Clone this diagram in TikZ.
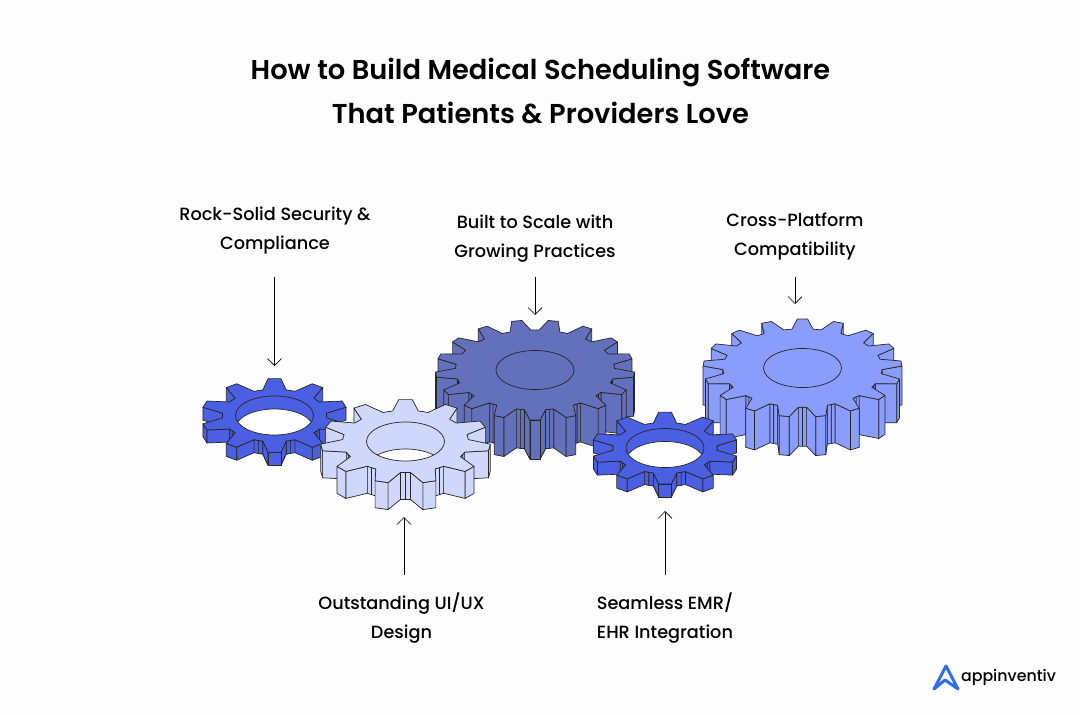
\documentclass[tikz,border=0pt]{standalone}
\usepackage{fontspec}
\usetikzlibrary{arrows.meta}
\setmainfont{Poppins}
\newfontfamily\medfont{Poppins Medium}
\newfontfamily\semifont{Poppins SemiBold}
\definecolor{gearblue}{HTML}{4A5FE2}
\definecolor{gearpale}{HTML}{CFD7FB}
\definecolor{gearslate}{HTML}{6370BC}
\definecolor{gearsky}{HTML}{8A9DFD}
\definecolor{logoblue}{HTML}{2F6CF0}
\definecolor{pagetint}{HTML}{FDFDFE}
\tikzset{
  titletext/.style={font=\semifont\fontsize{27.3}{44}\selectfont, align=center},
  labeltext/.style={font=\medfont\fontsize{17.7}{29}\selectfont, align=center},
  flow/.style={-{Straight Barb[length=7pt,width=14pt]}, line width=0.6pt, shorten <=#1},
  gearline/.style={draw=black!85, line width=0.7pt, line join=round}
}
% centre x, centre y, rx, ry, teeth, offset, root ratio, thickness, colour
\newcommand{\drawgear}[9]{
  \pgfmathsetmacro{\gcx}{#1}
  \pgfmathsetmacro{\gcy}{#2}
  \pgfmathsetmacro{\grx}{#3}
  \pgfmathsetmacro{\gry}{#4}
  \pgfmathsetmacro{\gsp}{360/#5}
  \pgfmathtruncatemacro{\ghalf}{floor(#5/2)}
  % side walls, far ones first
  \foreach \sd in {1,-1}{
    \foreach \k in {0,...,\ghalf}{
      \foreach \fa/\ra/\fb/\rb in {-.5/#7/-.36/#7, -.36/#7/-.14/1, -.14/1/.14/1, .14/1/.36/#7, .36/#7/.5/#7}{
        \pgfmathsetmacro{\anga}{90+\sd*(\k+#6+\fa)*\gsp}
        \pgfmathsetmacro{\angb}{90+\sd*(\k+#6+\fb)*\gsp}
        \pgfmathsetmacro{\gdx}{\sd*(\grx*\rb*cos(\angb)-\grx*\ra*cos(\anga))}
        \ifdim\gdx pt>0pt
          \draw[gearline, fill=#9] ({\gcx+\grx*\ra*cos(\anga)},{\gcy-\gry*\ra*sin(\anga)})
            -- ({\gcx+\grx*\rb*cos(\angb)},{\gcy-\gry*\rb*sin(\angb)})
            -- ({\gcx+\grx*\rb*cos(\angb)},{\gcy-\gry*\rb*sin(\angb)+#8})
            -- ({\gcx+\grx*\ra*cos(\anga)},{\gcy-\gry*\ra*sin(\anga)+#8}) -- cycle;
        \fi
      }
    }
  }
  % top face
  \pgfmathtruncatemacro{\glast}{#5-1}
  \draw[gearline, fill=#9] ({\gcx+\grx*#7*cos(90+(#6-.5)*\gsp)},{\gcy-\gry*#7*sin(90+(#6-.5)*\gsp)})
    \foreach \k in {0,...,\glast}{
      -- ({\gcx+\grx*#7*cos(90+(\k+#6-.36)*\gsp)},{\gcy-\gry*#7*sin(90+(\k+#6-.36)*\gsp)})
      -- ({\gcx+\grx*cos(90+(\k+#6-.14)*\gsp)},{\gcy-\gry*sin(90+(\k+#6-.14)*\gsp)})
      -- ({\gcx+\grx*cos(90+(\k+#6+.14)*\gsp)},{\gcy-\gry*sin(90+(\k+#6+.14)*\gsp)})
      -- ({\gcx+\grx*#7*cos(90+(\k+#6+.36)*\gsp)},{\gcy-\gry*#7*sin(90+(\k+#6+.36)*\gsp)})
      -- ({\gcx+\grx*#7*cos(90+(\k+#6+.5)*\gsp)},{\gcy-\gry*#7*sin(90+(\k+#6+.5)*\gsp)})
    } -- cycle;
  % hole
  \begin{scope}
    \clip (\gcx,\gcy) ellipse (39pt and 19.5pt);
    \draw[gearline, fill=white] (\gcx,\gcy+#8) ellipse (39pt and 19.5pt);
  \end{scope}
  \draw[gearline] (\gcx,\gcy) ellipse (39pt and 19.5pt);
}

\begin{document}
\begin{tikzpicture}[x=1pt, y=-1pt]
  \fill[pagetint] (0,0) rectangle (1080,715);
  \useasboundingbox (0,0) rectangle (1080,715);

  \node[titletext] (title) at (540.5,91) {How to Build Medical Scheduling Software\\That Patients \& Providers Love};

  % gears
  \drawgear{535}{370}{99.5}{50}{17}{.5}{.8}{39}{gearslate}
  \drawgear{274.5}{415.5}{73.4}{37}{10}{0}{.71}{13}{gearblue}
  \drawgear{405.5}{441.5}{85}{42}{11}{0}{.74}{27}{gearpale}
  \drawgear{802.5}{368}{99.5}{49}{17}{0}{.8}{39}{gearsky}
  \drawgear{665}{448}{73.4}{36}{10}{0}{.71}{13}{gearblue}

  % labels
  \node[labeltext] (rock) at (275,231) {Rock-Solid Security \&\\Compliance};
  \node[labeltext] (scale) at (535,239) {Built to Scale with\\Growing Practices};
  \node[labeltext] (cross) at (795,236) {Cross-Platform\\Compatibility};
  \node[labeltext] (design) at (401.5,618) {Outstanding UI/UX\\Design};
  \node[labeltext] (emr) at (665,618) {Seamless EMR/\\EHR Integration};

  \coordinate (rocktip) at (274.5,366);
  \coordinate (scaletip) at (535,315);
  \coordinate (crosstip) at (795,304);
  \coordinate (designtip) at (404,517);
  \coordinate (emrtip) at (665,511);

  \draw[flow=19pt] (rock.south -| rocktip) -- (rocktip);
  \draw[flow=11pt] (scale.south -| scaletip) -- (scaletip);
  \draw[flow=14pt] (cross.south -| crosstip) -- (crosstip);
  \draw[flow=14pt] (design.north -| designtip) -- (designtip);
  \draw[flow=14pt] (emr.north -| emrtip) -- (emrtip);

  % logo
  \draw[logoblue, line width=3pt, line cap=round, line join=round]
    (934,689) -- (946,666) -- (958,689) -- (945,680) -- cycle;
  \node[font=\medfont\fontsize{15.8}{20}\selectfont, inner sep=0pt] (brand) at (1008.5,677) {appinventiv};
\end{tikzpicture}
\end{document}
